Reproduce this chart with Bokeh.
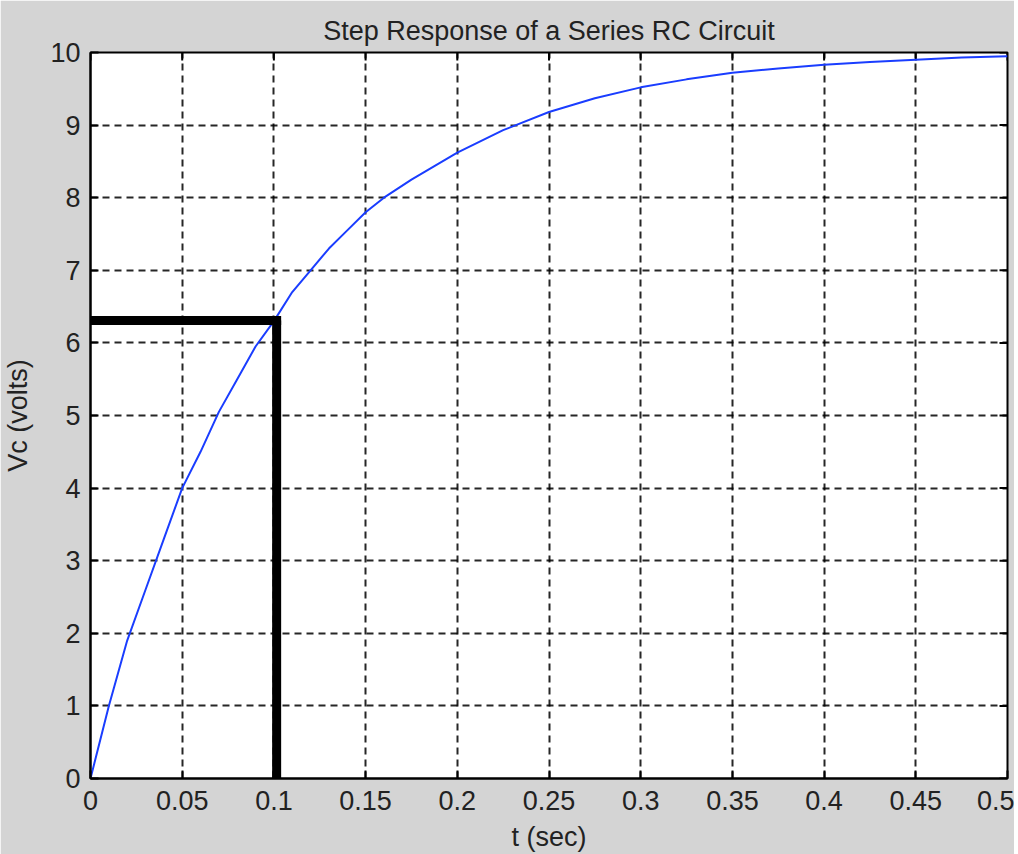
from bokeh.plotting import figure
from bokeh.models import FixedTicker, Range1d, BoxAnnotation
from bokeh.embed import file_html
from bokeh.resources import INLINE

# Data
t_vals = [0, 0.01, 0.02, 0.03, 0.04, 0.05, 0.06, 0.07, 0.08, 0.09, 0.10,
          0.11, 0.12, 0.13, 0.14, 0.15, 0.16, 0.175, 0.20, 0.225, 0.25,
          0.275, 0.30, 0.325, 0.35, 0.375, 0.40, 0.425, 0.45, 0.475, 0.50]
vc_vals = [0, 1.0, 1.9, 2.6, 3.3, 4.0, 4.5, 5.05, 5.5, 5.95, 6.3,
           6.7, 7.0, 7.3, 7.55, 7.8, 8.0, 8.25, 8.62, 8.93, 9.18,
           9.37, 9.52, 9.63, 9.72, 9.78, 9.83, 9.87, 9.9, 9.93, 9.95]

# time-constant marker
tau_t = 0.1015
tau_v = 6.31
marker_bottom = -0.22

title_text = "Step Response of a Series RC Circuit"
x_label = "t (sec)"
y_label = "Vc (volts)"

x_ticks = [0, 0.05, 0.1, 0.15, 0.2, 0.25, 0.3, 0.35, 0.4, 0.45, 0.5]
x_tick_labels = ["0", "0.05", "0.1", "0.15", "0.2", "0.25", "0.3", "0.35", "0.4", "0.45", "0.5"]
y_ticks = [0, 1, 2, 3, 4, 5, 6, 7, 8, 9, 10]
y_tick_labels = [str(v) for v in y_ticks]

X_MIN, X_MAX = 0, 0.5
Y_MIN, Y_MAX = 0, 10

FONT = "Liberation Sans"
FS = "27px"
BG = "#d4d4d4"
TXT = "#222222"

W, H = 1014, 854
B_LEFT, B_RIGHT, B_TOP, B_BOTTOM = 90, 7, 52, 75
FRAME_W = W - B_LEFT - B_RIGHT
FRAME_H = H - B_TOP - B_BOTTOM
TICK_PX = 8

p = figure(width=W, height=H, output_backend="svg", toolbar_location=None,
           x_range=Range1d(X_MIN, X_MAX), y_range=Range1d(Y_MIN, Y_MAX),
           title=title_text,
           min_border_left=B_LEFT, min_border_right=B_RIGHT,
           min_border_top=B_TOP, min_border_bottom=B_BOTTOM)

p.background_fill_color = "white"
p.border_fill_color = BG
p.outline_line_color = "black"
p.outline_line_width = 2

p.title.align = "center"
p.title.text_font = FONT
p.title.text_font_size = FS
p.title.text_font_style = "normal"
p.title.text_color = TXT
p.title.standoff = 10
p.title.vertical_align = "top"

for ax, ticks, labels, lab in [(p.xaxis[0], x_ticks, x_tick_labels, x_label),
                               (p.yaxis[0], y_ticks, y_tick_labels, y_label)]:
    ax.ticker = FixedTicker(ticks=ticks)
    ax.major_label_overrides = {tk: lb for tk, lb in zip(ticks, labels)}
    ax.major_label_text_font = FONT
    ax.major_label_text_font_size = FS
    ax.major_label_text_color = TXT
    ax.axis_label = lab
    ax.axis_label_text_font = FONT
    ax.axis_label_text_font_size = FS
    ax.axis_label_text_font_style = "normal"
    ax.axis_label_text_color = TXT
    ax.major_tick_in = TICK_PX
    ax.major_tick_out = 0
    ax.major_tick_line_width = 2
    ax.minor_tick_line_color = None
    ax.axis_line_width = 2

p.xaxis[0].major_label_standoff = 12
p.xaxis[0].axis_label_standoff = 9
p.yaxis[0].major_label_standoff = 10
p.yaxis[0].axis_label_standoff = 14

for g in [p.xgrid[0], p.ygrid[0]]:
    g.grid_line_color = "black"
    g.grid_line_width = 2
    g.grid_line_dash = "7 5"
    g.grid_line_alpha = 0.85

p.xgrid[0].ticker = FixedTicker(ticks=x_ticks)
p.ygrid[0].ticker = FixedTicker(ticks=y_ticks)

# inward ticks on the top and right edges of the box
dy = (Y_MAX - Y_MIN) * TICK_PX / FRAME_H
dx = (X_MAX - X_MIN) * TICK_PX / FRAME_W
p.segment(x0=x_ticks, y0=[Y_MAX] * len(x_ticks), x1=x_ticks, y1=[Y_MAX - dy] * len(x_ticks),
          line_color="black", line_width=2)
p.segment(x0=[X_MAX] * len(y_ticks), y0=y_ticks, x1=[X_MAX - dx] * len(y_ticks), y1=y_ticks,
          line_color="black", line_width=2)

p.line(t_vals, vc_vals, line_color="#1a3dff", line_width=2)

# thick time-constant marker
p.segment(x0=[X_MIN], y0=[tau_v], x1=[tau_t], y1=[tau_v], line_color="black", line_width=9,
          line_cap="square")
half_w = (X_MAX - X_MIN) * 4.5 / FRAME_W
box = BoxAnnotation(left=tau_t - half_w, right=tau_t + half_w, bottom=marker_bottom, top=tau_v,
                    fill_color="black", fill_alpha=1.0, line_color=None, level="overlay")
p.add_layout(box)

open("out.html", "w").write(file_html(p, INLINE))
